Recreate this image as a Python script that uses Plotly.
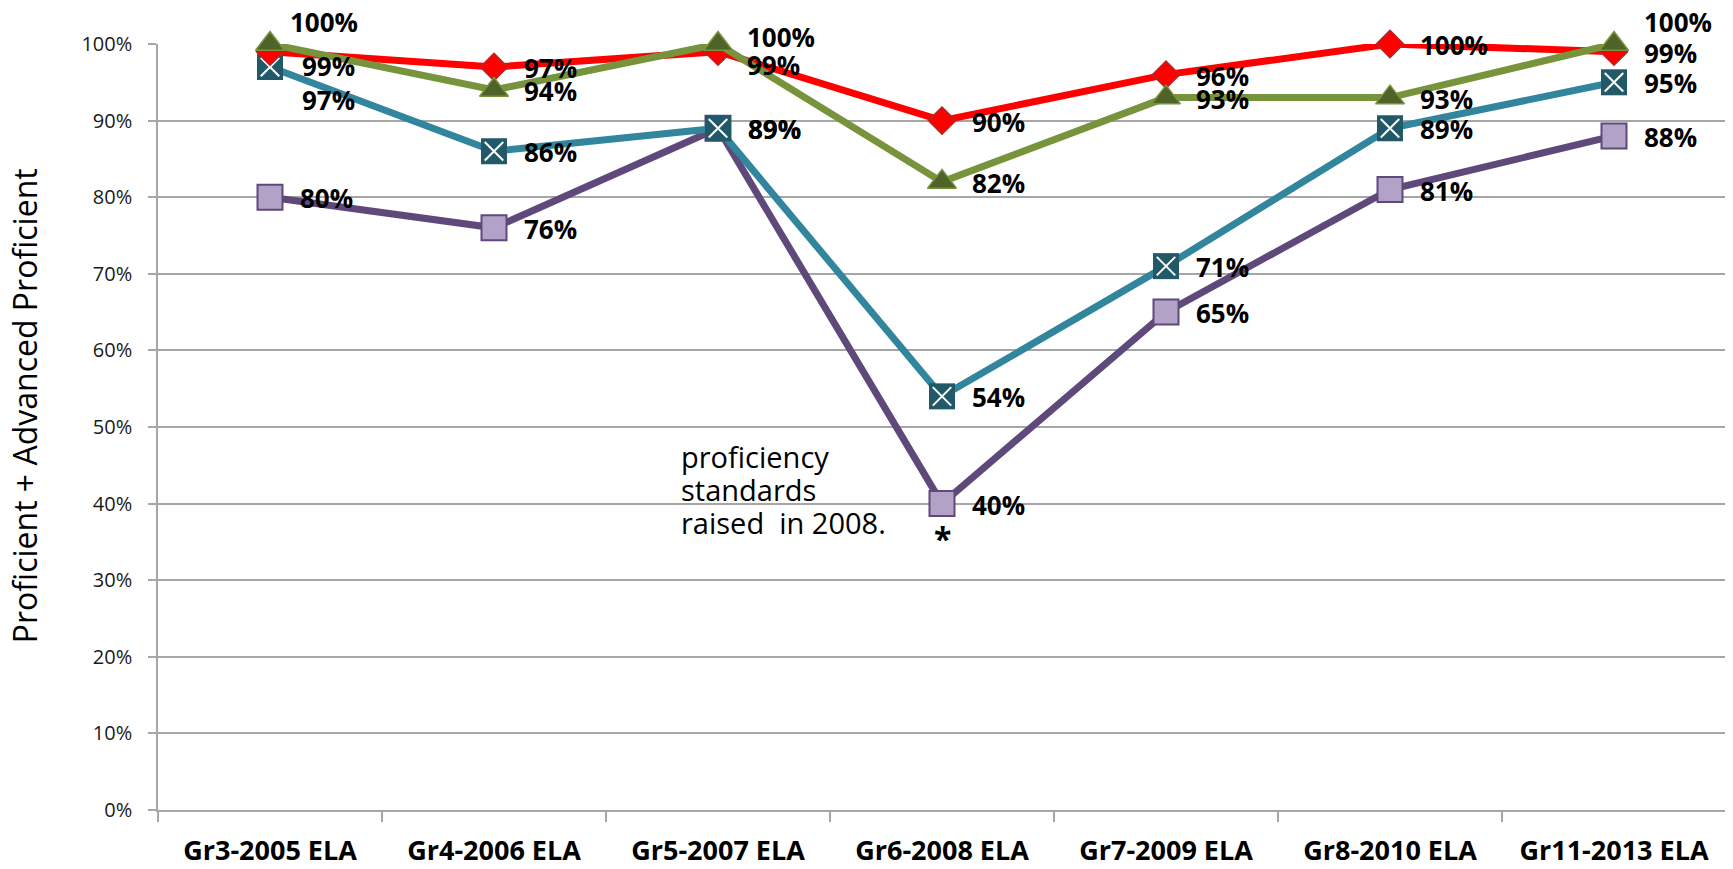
import plotly.graph_objects as go

# categories along the x axis
categories = ["Gr3-2005 ELA", "Gr4-2006 ELA", "Gr5-2007 ELA", "Gr6-2008 ELA",
              "Gr7-2009 ELA", "Gr8-2010 ELA", "Gr11-2013 ELA"]

# percent proficient + advanced, one list per line
red_values = [99, 97, 99, 90, 96, 100, 99]
green_values = [100, 94, 100, 82, 93, 93, 100]
teal_values = [97, 86, 89, 54, 71, 89, 95]
purple_values = [80, 76, 89, 40, 65, 81, 88]

note_lines = ["proficiency", "standards", "raised\u00a0 in 2008."]
y_title = "Proficient + Advanced Proficient"
FONT = "Open Sans"
GRID = "#A6A6A6"

# label nudges where Excel labels were moved by hand: (series, index) -> (xshift, yshift)
label_nudges = {
    ("green", 0): (18, 22),
    ("red", 0): (30, -14),
    ("teal", 0): (30, -33),
    ("green", 2): (27, 7),
    ("red", 2): (27, -13),
    ("green", 6): (28, 22),
}


def pct(values):
    return [v / 100 for v in values]


fig = go.Figure()

# purple line with light squares
fig.add_trace(go.Scatter(
    x=categories, y=pct(purple_values), mode="lines+markers",
    line=dict(color="#5F497A", width=7),
    marker=dict(symbol="square", size=25, color="#B3A2C7",
                line=dict(color="#5F497A", width=2)),
    cliponaxis=False, hoverinfo="skip",
))

# teal line with dark squares + white cross
fig.add_trace(go.Scatter(
    x=categories, y=pct(teal_values), mode="lines+markers",
    line=dict(color="#31859C", width=7),
    marker=dict(symbol="square", size=26, color="#215968",
                line=dict(color="#215968", width=0)),
    cliponaxis=False, hoverinfo="skip",
))
fig.add_trace(go.Scatter(
    x=categories, y=pct(teal_values), mode="markers",
    marker=dict(symbol="x-thin", size=18.5, color="white",
                line=dict(color="white", width=2)),
    cliponaxis=False, hoverinfo="skip",
))

# red line with diamonds
fig.add_trace(go.Scatter(
    x=categories, y=pct(red_values), mode="lines+markers",
    line=dict(color="#FF0000", width=7),
    marker=dict(symbol="diamond", size=21, color="#FF0000",
                line=dict(color="#B0282A", width=1.5)),
    cliponaxis=False, hoverinfo="skip",
))

# green line with olive triangles
fig.add_trace(go.Scatter(
    x=categories, y=pct(green_values), mode="lines+markers",
    line=dict(color="#77933C", width=7),
    marker=dict(symbol="triangle-up", size=25, color="#4F6228",
                line=dict(color="#77933C", width=1.5)),
    cliponaxis=False, hoverinfo="skip",
))

annotations = []
series = [("purple", purple_values), ("teal", teal_values),
          ("red", red_values), ("green", green_values)]
for name, values in series:
    for i, v in enumerate(values):
        xs, ys = label_nudges.get((name, i), (28, -1))
        annotations.append(dict(
            x=categories[i], y=v / 100, text=f"{v}%", showarrow=False,
            xanchor="left", yanchor="middle", xshift=xs, yshift=ys,
            font=dict(family=FONT, size=26, color="black", weight="bold"),
        ))

# asterisk under the 2008 point
annotations.append(dict(
    x=categories[3], y=purple_values[3] / 100, text="*", showarrow=False,
    xanchor="center", yanchor="middle", yshift=-35,
    font=dict(family=FONT, size=32, color="black", weight="bold"),
))

# note about the standards change, one line per annotation (tight spacing)
for k, line in enumerate(note_lines):
    annotations.append(dict(
        x=0.332, xref="paper", y=0.418, yref="paper", text=line, showarrow=False,
        xanchor="left", yanchor="middle", yshift=33 * (1 - k),
        font=dict(family=FONT, size=29, color="black"),
    ))

# y axis title
annotations.append(dict(
    x=-0.085, xref="paper", y=0.528, yref="paper", text=y_title, showarrow=False,
    textangle=-90, xanchor="center", yanchor="middle",
    font=dict(family=FONT, size=32, color="black"),
))

fig.update_layout(
    width=1725, height=861,
    margin=dict(l=150, r=7, t=36, b=59),
    paper_bgcolor="white", plot_bgcolor="white",
    showlegend=False,
    annotations=annotations,
    xaxis=dict(
        type="category", range=[-0.5, 6.5], showgrid=False, automargin=False,
        showline=True, linecolor=GRID, linewidth=1.5,
        ticks="outside", tickson="boundaries", ticklen=10, tickcolor=GRID, tickwidth=1.5,
        tickfont=dict(family=FONT, size=27, color="black", weight="bold"),
        ticklabelstandoff=16,
    ),
    yaxis=dict(
        range=[0, 1], dtick=0.1, tickformat=".0%", automargin=False,
        showgrid=True, gridcolor=GRID, gridwidth=1.5, zeroline=False,
        showline=True, linecolor=GRID, linewidth=1.5,
        ticks="outside", ticklen=8, tickcolor=GRID, tickwidth=1.5,
        tickfont=dict(family=FONT, size=20, color="#1a1a1a"),
        ticklabelstandoff=12,
    ),
)

fig.write_html("out.html")
